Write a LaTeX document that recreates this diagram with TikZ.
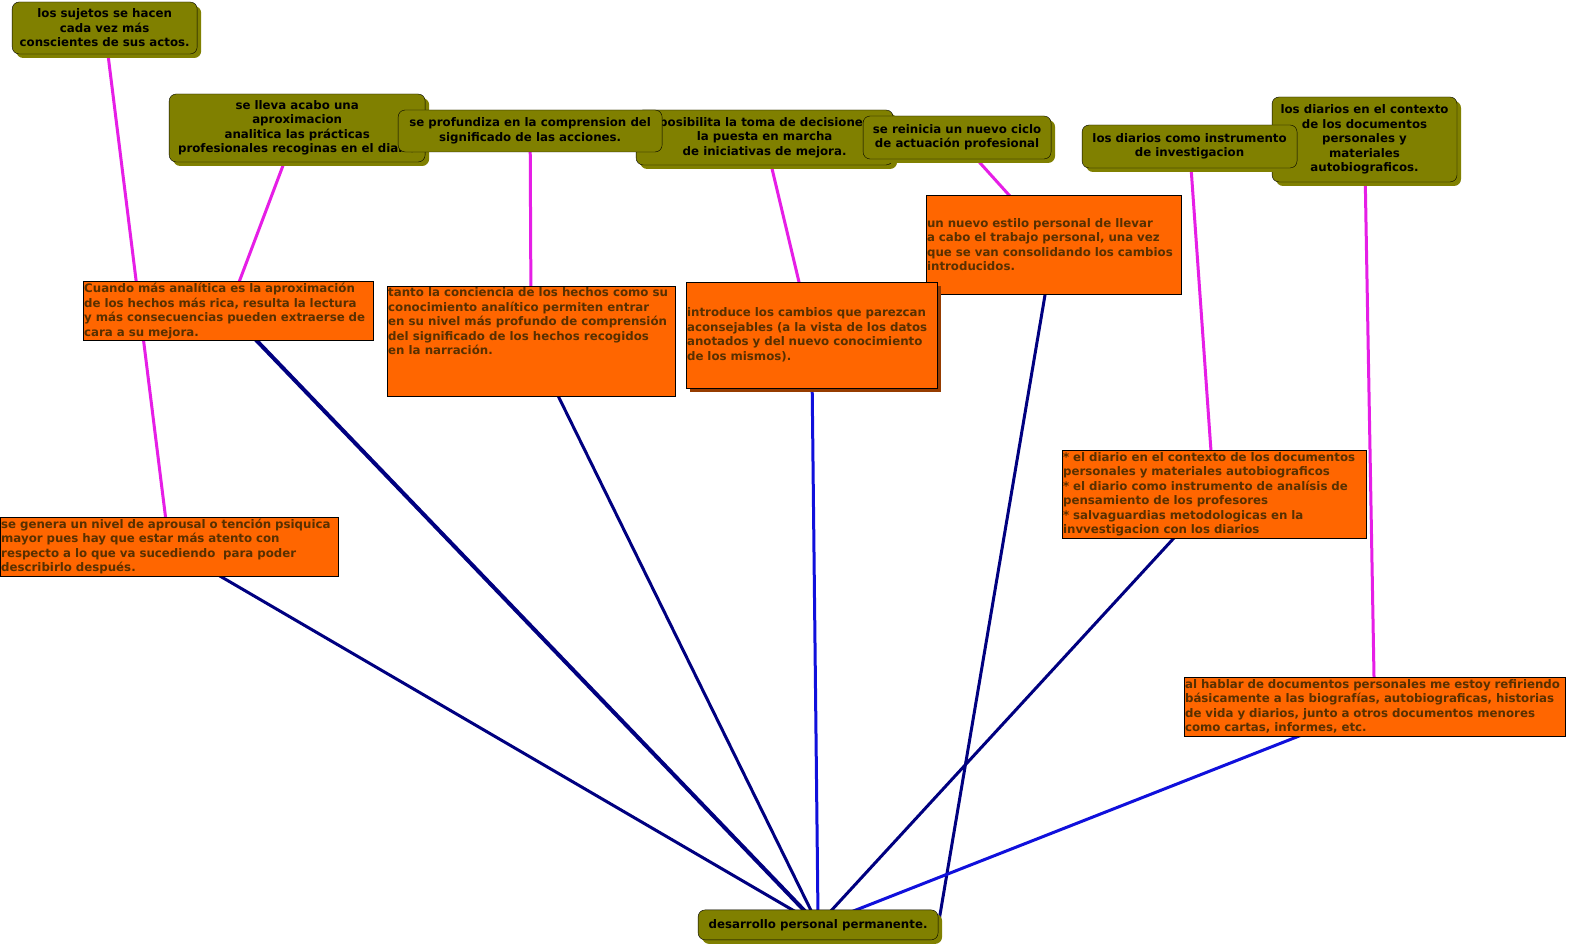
\documentclass[tikz,border=0pt]{standalone}
\usepackage{fontspec}
\setmainfont{DejaVu Sans}
\usetikzlibrary{shadows,backgrounds}
\definecolor{OliveFill}{RGB}{128,128,0}
\definecolor{OrangeFill}{RGB}{255,102,0}
\definecolor{BrownText}{RGB}{88,48,0}
\definecolor{BrownShadow}{RGB}{150,60,0}
\definecolor{LinkMagenta}{RGB}{230,30,230}
\definecolor{LinkNavy}{RGB}{0,0,128}
\definecolor{LinkBlue}{RGB}{16,16,220}
\tikzset{
  mapfont/.style={font=\bfseries\fontsize{11.8}{14.5}\selectfont},
  topic/.style={mapfont, draw=black, fill=OliveFill, rounded corners=7pt, align=center, inner sep=2pt,
    drop shadow={shadow xshift=4pt, shadow yshift=-4pt, fill=OliveFill, opacity=1}},
  flattopic/.style={mapfont, draw=black, fill=OliveFill, rounded corners=7pt, align=center, inner sep=2pt},
  note/.style={mapfont, draw=black, fill=OrangeFill, text=BrownText, align=left, inner xsep=1pt, inner ysep=2pt},
  upper link/.style={LinkMagenta, line width=3pt},
  lower link/.style={LinkNavy, line width=3pt},
  blue link/.style={LinkBlue, line width=3pt}
}
\begin{document}
\begin{tikzpicture}[x=1pt, y=-1pt]
  % olive topics, top row
  \node[topic, minimum width=185, minimum height=52] (sujetos) at (104.5,28) {los sujetos se hacen\\cada vez más\\conscientes de sus actos.};
  \node[topic, minimum width=256, minimum height=68] (lleva) at (297,128) {se lleva acabo una\\aproximacion\\analitica las prácticas\\profesionales recoginas en el diario};
  \node[topic, minimum width=257, minimum height=55] (posibilita) at (764.5,137.5) {posibilita la toma de decisiones\\la puesta en marcha\\de iniciativas de mejora.};
  \node[flattopic, minimum width=264, minimum height=42] (profundiza) at (530,131) {se profundiza en la comprension del\\significado de las acciones.};
  \node[topic, minimum width=188, minimum height=43] (reinicia) at (957,137.5) {se reinicia un nuevo ciclo\\de actuación profesional};
  \node[topic, minimum width=185, minimum height=85] (contexto) at (1364.5,139.5) {los diarios en el contexto\\de los documentos\\personales y\\materiales\\autobiograficos.};
  \node[topic, minimum width=215, minimum height=43] (instrumento) at (1189.5,146.5) {los diarios como instrumento\\de investigacion};
  % orange notes
  \node[note, text width=253, minimum height=99] (estilo) at (1053.5,244.5) {un nuevo estilo personal de llevar\\a cabo el trabajo personal, una vez\\que se van consolidando los cambios\\introducidos.};
  \node[note, text width=249, minimum height=106,
    drop shadow={shadow xshift=4pt, shadow yshift=-4pt, fill=BrownShadow, opacity=1}] (cambios) at (811.5,335) {introduce los cambios que parezcan\\aconsejables (a la vista de los datos\\anotados y del nuevo conocimiento\\de los mismos).};
  \node[note, text width=288, minimum height=58] (cuando) at (228,311) {Cuando más analítica es la aproximación\\de los hechos más rica, resulta la lectura\\y más consecuencias pueden extraerse de\\cara a su mejora.};
  \node[note] (conciencia) at (531,341) {\parbox[c][106pt][t]{286pt}{\raggedright tanto la conciencia de los hechos como su\\conocimiento analítico permiten entrar\\en su nivel más profundo de comprensión\\del significado de los hechos recogidos\\en la narración.}};
  \node[note, text width=336, minimum height=59] (aprousal) at (169,546.5) {se genera un nivel de aprousal o tención psiquica\\mayor pues hay que estar más atento con\\respecto a lo que va sucediendo\ \ para poder\\describirlo después.};
  \node[note, text width=302, minimum height=87] (temas) at (1214,494.5) {{*} el diario en el contexto de los documentos\\personales y materiales autobiograficos\\{*} el diario como instrumento de analísis de\\pensamiento de los profesores\\{*} salvaguardias metodologicas en la\\invvestigacion con los diarios};
  \node[note, text width=379, minimum height=59] (hablar) at (1374.5,706.5) {al hablar de documentos personales me estoy refiriendo\\básicamente a las biografías, autobiograficas, historias\\de vida y diarios, junto a otros documentos menores\\como cartas, informes, etc.};
  % root
  \node[topic, minimum width=240, minimum height=30] (desarrollo) at (818,925) {desarrollo personal permanente.};
  % connectors behind the boxes
  \begin{scope}[on background layer]
    \path[use as bounding box, fill=white] (0,0) rectangle (1571,949);
    \draw[upper link] (sujetos.center) -- (aprousal.center);
    \draw[upper link] (lleva.center) -- (cuando.center);
    \draw[upper link] (profundiza.center) -- (conciencia.center);
    \draw[upper link] (posibilita.center) -- (cambios.center);
    \draw[upper link] (reinicia.center) -- (estilo.center);
    \draw[upper link] (instrumento.center) -- (temas.center);
    \draw[upper link] (contexto.center) -- (hablar.center);
    \draw[lower link] (aprousal.center) -- (desarrollo.center);
    \draw[lower link, line width=4pt] (cuando.center) -- (desarrollo.center);
    \draw[lower link] (conciencia.center) -- (desarrollo.center);
    \draw[blue link] (cambios.center) -- (desarrollo.center);
    \draw[lower link] (estilo.center) -- (desarrollo.east);
    \draw[lower link] (temas.center) -- (desarrollo.center);
    \draw[blue link] (hablar.center) -- (desarrollo.center);
  \end{scope}
\end{tikzpicture}
\end{document}
